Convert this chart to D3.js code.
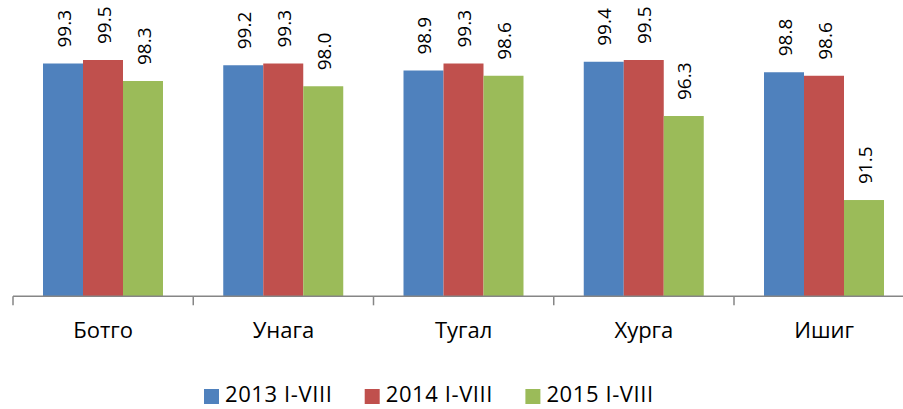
<!DOCTYPE html>
<html>
<head>
<meta charset="utf-8">
<script src="https://cdn.jsdelivr.net/npm/d3@7"></script>
<style>
body { margin: 0; background: #fff; }
svg { display: block; font-family: "Open Sans", sans-serif; }
</style>
</head>
<body>
<script>
const categories = ["Ботго", "Унага", "Тугал", "Хурга", "Ишиг"];
const seriesNames = ["2013 I-VIII", "2014 I-VIII", "2015 I-VIII"];
const values2013 = [99.3, 99.2, 98.9, 99.4, 98.8];
const values2014 = [99.5, 99.3, 99.3, 99.5, 98.6];
const values2015 = [98.3, 98.0, 98.6, 96.3, 91.5];
const colors = ["#4F81BD", "#C0504D", "#9BBB59"];

const width = 903, height = 409;
const series = [values2013, values2014, values2015];

const svg = d3.select("body")
	.append("svg")
	.attr("width", width)
	.attr("height", height);

const x = d3.scaleBand()
	.domain(categories)
	.range([13, 13 + 5 * 180.25]);

const xs = d3.scaleBand()
	.domain(seriesNames)
	.range([30, 150]);

const y = d3.scaleLinear()
	.domain([86, 100])
	.range([296.3, 51.25]);

// bars
const groups = svg.append("g")
	.selectAll("g")
	.data(categories)
	.join("g")
	.attr("transform", function(d) { return "translate(" + x(d) + ",0)"; });

groups.selectAll("rect")
	.data(function(d, i) {
		return seriesNames.map(function(s, j) { return {s: s, v: series[j][i], c: colors[j]}; });
	})
	.join("rect")
	.attr("x", function(d) { return xs(d.s); })
	.attr("y", function(d) { return y(d.v); })
	.attr("width", xs.bandwidth())
	.attr("height", function(d) { return y(86) - y(d.v); })
	.attr("fill", function(d) { return d.c; });

// value labels, rotated
groups.selectAll("text")
	.data(function(d, i) {
		return seriesNames.map(function(s, j) { return {s: s, v: series[j][i]}; });
	})
	.join("text")
	.attr("transform", function(d) {
		return "translate(" + (xs(d.s) + xs.bandwidth() / 2 + 1) + "," + (y(d.v) - 16) + ") rotate(-90)";
	})
	.attr("dy", "0.35em")
	.attr("font-size", 19)
	.attr("fill", "#000")
	.text(function(d) { return d.v.toFixed(1); });

// x axis
const axis = svg.append("g")
	.attr("transform", "translate(0," + y(86) + ")")
	.call(d3.axisBottom(x).tickSize(0).tickPadding(0));
axis.select(".domain").remove();
axis.selectAll("text")
	.attr("y", 42)
	.attr("dy", 0)
	.attr("font-size", 22)
	.attr("font-family", "Open Sans, sans-serif")
	.attr("fill", "#000");

axis.append("line")
	.attr("x1", x.range()[0])
	.attr("x2", width)
	.attr("stroke", "#868686")
	.attr("stroke-width", 1.5);

axis.selectAll(".bound")
	.data(categories)
	.join("line")
	.attr("class", "bound")
	.attr("x1", function(d) { return x(d); })
	.attr("x2", function(d) { return x(d); })
	.attr("y1", 0)
	.attr("y2", 9)
	.attr("stroke", "#868686")
	.attr("stroke-width", 1.5);

// legend
const legend = svg.append("g")
	.selectAll("g")
	.data(seriesNames)
	.join("g")
	.attr("transform", function(d, i) { return "translate(" + (204 + i * 160.7) + ",389)"; });

legend.append("rect")
	.attr("width", 15)
	.attr("height", 15)
	.attr("fill", function(d, i) { return colors[i]; });

legend.append("text")
	.attr("x", 21)
	.attr("y", 13)
	.attr("font-size", 22)
	.attr("letter-spacing", 0.6)
	.attr("fill", "#000")
	.text(function(d) { return d; });
</script>
</body>
</html>
